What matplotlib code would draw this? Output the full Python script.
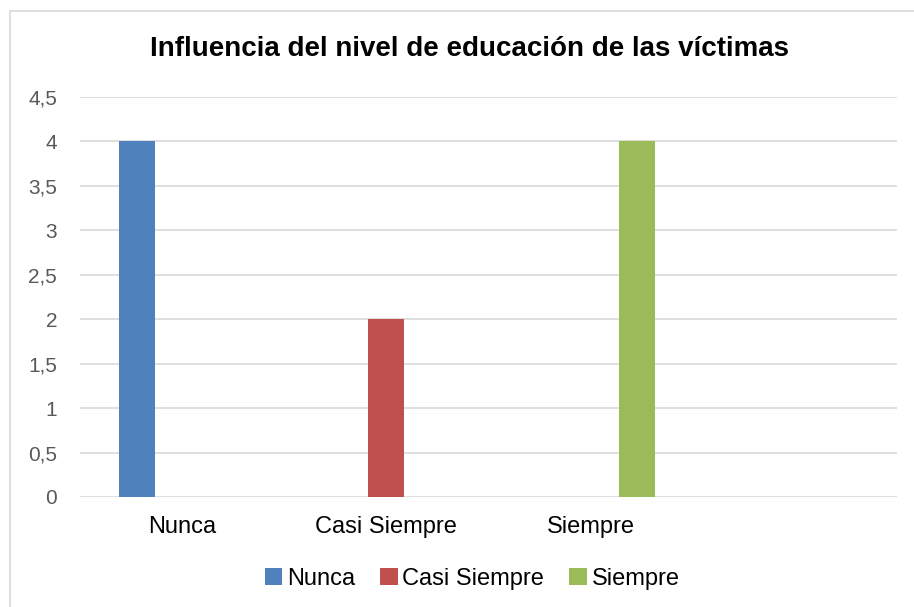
import matplotlib
matplotlib.use("Agg")
import matplotlib.pyplot as plt
from matplotlib.lines import Line2D
import numpy as np

TITLE = "Influencia del nivel de educación de las víctimas"
CATEGORIES = ["Nunca", "Casi Siempre", "Siempre", ""]
SERIES = ["Nunca", "Casi Siempre", "Siempre"]
# one value per category for each series (0 = no bar in that cluster)
NUNCA = [4, 0, 0, 0]
CASI_SIEMPRE = [0, 2, 0, 0]
SIEMPRE = [0, 0, 4, 0]
COLORS = ["#4f81bd", "#c0504d", "#9bbb59"]
YTICKS = [0, 0.5, 1, 1.5, 2, 2.5, 3, 3.5, 4, 4.5]

plt.rcParams["font.family"] = ["Liberation Sans", "DejaVu Sans"]

fig = plt.figure(figsize=(9.14, 6.07), dpi=100)
ax = fig.add_axes([80 / 914, 1 - 497 / 607, 817 / 914, 400 / 607])

x = np.arange(len(CATEGORIES))
width = 36 / 204
offsets = [-45 / 204, 0, 46 / 204]
for vals, off, col, name in zip([NUNCA, CASI_SIEMPRE, SIEMPRE], offsets, COLORS, SERIES):
    ax.bar(x + off, vals, width, color=col, label=name, zorder=3)

ax.set_xlim(-0.5, len(CATEGORIES) - 0.5)
ax.set_ylim(0, 4.5)
ax.set_yticks(YTICKS)
ax.set_yticklabels([f"{t:g}".replace(".", ",") for t in YTICKS],
                   fontsize=15, color="#595959")
ax.set_xticks(x)
ax.set_xticklabels(CATEGORIES, fontsize=17, color="#000000")
ax.tick_params(length=0)
ax.tick_params(axis="y", pad=16.5)
ax.tick_params(axis="x", pad=14)
ax.grid(axis="y", color="#d9d9d9", lw=1.2, zorder=0)
for s in ax.spines.values():
    s.set_visible(False)

fig.text(469 / 914, 1 - 49 / 607, TITLE, ha="center", va="center",
         fontsize=20, fontweight="bold")

leg = fig.legend(loc="center", bbox_to_anchor=(472 / 914, 1 - 579 / 607), ncol=3,
                 frameon=False, fontsize=17, handlelength=0.75, handleheight=0.75,
                 handletextpad=0.2, columnspacing=1.05)

# chart-area frame (only the top and left edges fall inside the picture)
fig.add_artist(Line2D([10 / 914, 1], [1 - 11 / 607] * 2, color="#d9d9d9", lw=1.2))
fig.add_artist(Line2D([10 / 914] * 2, [0, 1 - 11 / 607], color="#d9d9d9", lw=1.2))

fig.savefig("out.png", dpi=100)
